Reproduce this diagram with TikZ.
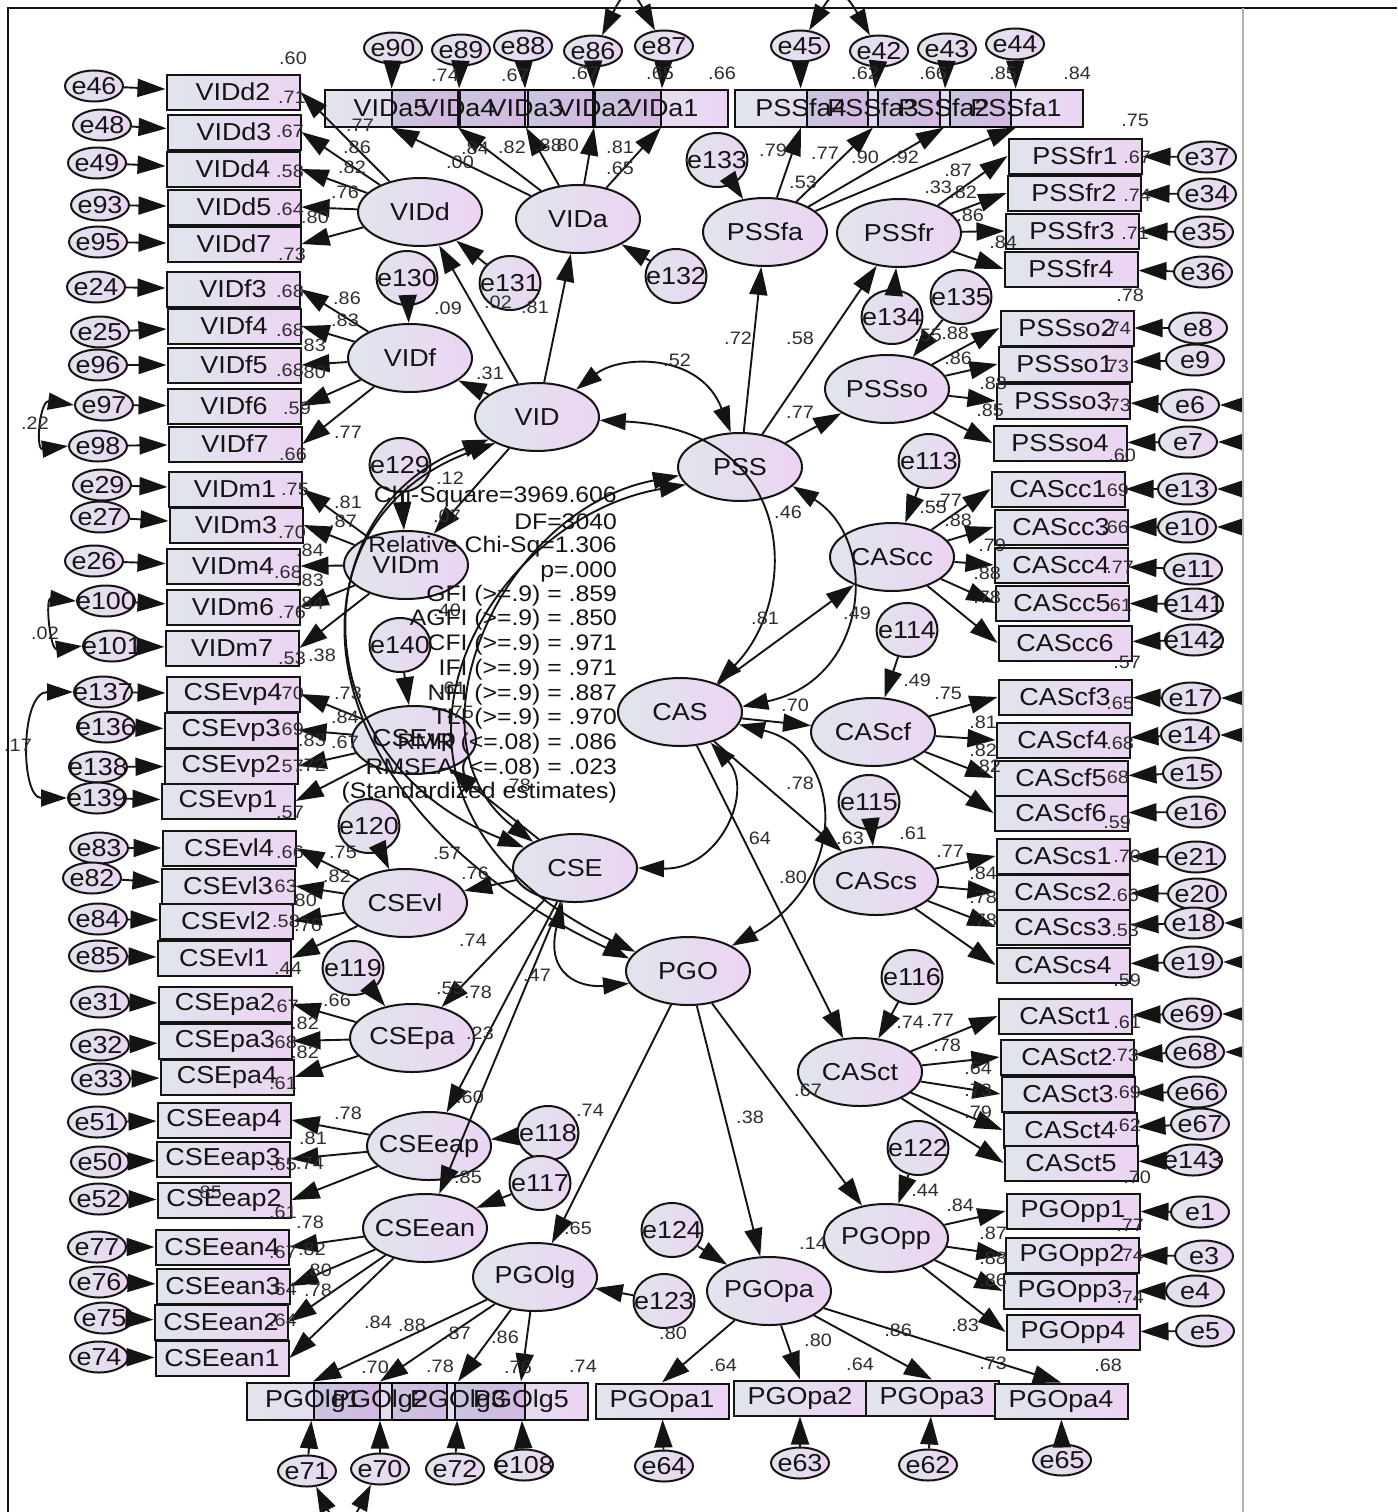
\documentclass[tikz,border=0pt]{standalone}
\usepackage{fontspec}
\setmainfont{Liberation Sans}[FakeStretch=1.1]
\usetikzlibrary{arrows.meta,shapes.geometric}
\definecolor{gA}{RGB}{224,229,236}
\definecolor{gB}{RGB}{236,212,243}
\definecolor{ink}{RGB}{20,20,20}
\definecolor{num}{RGB}{45,45,45}
\newcommand\fbig{\fontsize{24.5}{26}\selectfont}
\newcommand\fsmall{\fontsize{18}{20}\selectfont}
\newcommand\ffit{\fontsize{22.5}{24}\selectfont}
\tikzset{
 grad/.style={left color=gA, right color=gB},
 obs/.style={draw=ink, line width=2pt, rectangle, grad, minimum width=133pt, minimum height=35pt, inner sep=0pt},
 rowbox/.style={obs, minimum height=37pt},
 lat/.style={draw=ink, line width=2pt, ellipse, grad, minimum width=124pt, minimum height=68pt, inner sep=0pt},
 err/.style={draw=ink, line width=2pt, ellipse, grad, minimum width=58pt, minimum height=31pt, inner sep=0pt},
 res/.style={draw=ink, line width=2pt, ellipse, grad, minimum width=61pt, minimum height=54pt, inner sep=0pt},
 txt/.style={font=\fbig, text=ink, inner sep=0pt},
 arr/.style={draw=ink, line width=1.9pt, -{Triangle[length=28pt,width=18pt]}},
 cov/.style={draw=ink, line width=1.9pt, {Triangle[length=26pt,width=17pt]}-{Triangle[length=26pt,width=17pt]}},
 cl/.style={font=\fsmall, text=num, inner sep=0pt},
 fitl/.style={font=\ffit, text=ink, inner sep=0pt, anchor=east},
}
\begin{document}
\begin{tikzpicture}[x=1pt,y=-1pt]
\useasboundingbox (0,0) rectangle (1397,1512);
\fill[white] (0,0) rectangle (1397,1512);
\begin{scope}
\clip (0,0) rectangle (1243,1512);
% ---------- observed boxes, left and right columns
\foreach \n/\x/\y in {VIDd2/233/92, VIDd3/234/132, VIDd4/233/169, VIDd5/234/207, VIDd7/234/244,
 VIDf3/233/289, VIDf4/234/326, VIDf5/234/365, VIDf6/234/406, VIDf7/235/444,
 VIDm1/235/489, VIDm3/236/525, VIDm4/233/566, VIDm6/233/607, VIDm7/232/648,
 CSEvp4/233/694, CSEvp3/231/730, CSEvp2/231/766, CSEvp1/228/801,
 CSEvl4/229/848, CSEvl3/228/886, CSEvl2/226/921, CSEvl1/224/958,
 CSEpa2/225/1004, CSEpa3/225/1041, CSEpa4/227/1077,
 CSEeap4/224/1120, CSEeap3/223/1159, CSEeap2/224/1200,
 CSEean4/222/1247, CSEean3/223/1286, CSEean2/221/1322, CSEean1/222/1358,
 PSSfr1/1075/156, PSSfr2/1074/193, PSSfr3/1072/231, PSSfr4/1071/269,
 PSSso2/1067/328, PSSso1/1065/364, PSSso3/1063/401, PSSso4/1060/443,
 CAScc1/1058/489, CAScc3/1061/527, CAScc4/1061/565, CAScc5/1062/603, CAScc6/1065/643,
 CAScf3/1065/697, CAScf4/1063/740, CAScf5/1061/778, CAScf6/1061/813,
 CAScs1/1063/856, CAScs2/1063/892, CAScs3/1063/927, CAScs4/1063/965,
 CASct1/1065/1016, CASct2/1067/1057, CASct3/1068/1094, CASct4/1070/1130, CASct5/1071/1163,
 PGOpp1/1073/1211, PGOpp2/1072/1255, PGOpp3/1070/1291, PGOpp4/1073/1332,
 PGOpa1/662/1401, PGOpa2/800/1398, PGOpa3/932/1398, PGOpa4/1061/1401}
 {\node[obs] (\n) at (\x,\y) {}; \node[txt] (\n-t) at (\x,\y) {\n};}
% ---------- overlapping rows (overlaps darken)
\begin{scope}[blend mode=multiply]
\foreach \n/\x/\y in {VIDa5/391/108, VIDa4/458/108, VIDa3/526/108, VIDa2/594/108, VIDa1/661/108,
 PSSfa4/801/108, PSSfa3/873/108, PSSfa2/944/108, PSSfa1/1016/108,
 PGOlg1/313/1401, PGOlg2/380/1401, PGOlg3/458/1401, PGOlg5/521/1401}
 {\node[rowbox] (\n) at (\x,\y) {};}
\end{scope}
\foreach \n/\x/\y in {VIDa5/391/108, VIDa4/458/108, VIDa3/526/108, VIDa2/594/108, VIDa1/661/108,
 PSSfa4/801/108, PSSfa3/873/108, PSSfa2/944/108, PSSfa1/1016/108,
 PGOlg1/313/1401, PGOlg2/380/1401, PGOlg3/458/1401, PGOlg5/521/1401}
 {\node[txt] (\n-t) at (\x,\y) {\n};}
% ---------- measurement errors
\foreach \n/\x/\y in {e46/94/86, e48/102/125, e49/97/163, e93/100/205, e95/98/242,
 e24/96/287, e25/100/332, e96/98/365, e97/104/405, e98/98/446,
 e29/102/485, e27/100/517, e26/94/561, e100/106/601, e101/112/646,
 e137/103/692, e136/106/727, e138/98/767, e139/97/798,
 e83/99/848, e82/92/878, e84/98/919, e85/98/956,
 e31/100/1002, e32/100/1045, e33/101/1079,
 e51/97/1122, e50/100/1162, e52/99/1199,
 e77/97/1247, e76/99/1282, e75/104/1318, e74/99/1357,
 e90/393/48, e89/461/50, e88/523/46, e86/593/51, e87/664/46,
 e45/800/46, e42/879/51, e43/947/49, e44/1015/44,
 e37/1207/157, e34/1207/194, e35/1204/232, e36/1203/272, e8/1198/328, e9/1195/360,
 e6/1190/405, e7/1188/442, e13/1187/489, e10/1187/527, e11/1193/569, e141/1194/604, e142/1194/640,
 e17/1191/698, e14/1190/735, e15/1192/773, e16/1196/812,
 e21/1196/857, e20/1197/894, e18/1194/923, e19/1193/962,
 e69/1192/1014, e68/1195/1052, e66/1197/1092, e67/1200/1124, e143/1193/1160,
 e1/1200/1212, e3/1204/1256, e4/1195/1291, e5/1205/1331,
 e71/307/1471, e70/380/1469, e72/455/1469, e108/524/1465,
 e64/664/1466, e63/800/1463, e62/928/1465, e65/1062/1460}
 {\node[err] (\n) at (\x,\y) {}; \node[txt] (\n-t) at (\x,\y) {\n};}
% ---------- structural residuals
\foreach \n/\x/\y in {e130/407/278, e131/510/283, e132/676/276, e133/717/160, e134/892/317, e135/961/297,
 e129/400/465, e140/400/645, e113/929/461, e114/907/630, e115/869/802, e120/369/826,
 e116/912/977, e119/353/968, e118/548/1133, e117/540/1183, e122/918/1148, e124/672/1230, e123/664/1301}
 {\node[res] (\n) at (\x,\y) {}; \node[txt] (\n-t) at (\x,\y) {\n};}
% ---------- latent factors
\foreach \n/\x/\y in {VIDd/420/212, VIDa/578/219, PSSfa/765/232, PSSfr/899/233, VIDf/410/358,
 VID/537/417, PSSso/887/389, PSS/740/467, VIDm/406/565, CAScc/892/557, CSEvp/414/740,
 CAS/680/712, CAScf/873/732, CSE/575/868, CSEvl/405/903, PGO/688/971, CAScs/876/881,
 CSEpa/412/1038, CASct/860/1072, CSEeap/429/1146, CSEean/425/1228, PGOlg/535/1277,
 PGOpa/769/1291, PGOpp/886/1238}
 {\node[lat] (\n) at (\x,\y) {}; \node[txt] (\n-t) at (\x,\y) {\n};}
% ---------- error arrows
\foreach \a/\b in {e46/VIDd2, e48/VIDd3, e49/VIDd4, e93/VIDd5, e95/VIDd7, e24/VIDf3, e25/VIDf4, e96/VIDf5,
 e97/VIDf6, e98/VIDf7, e29/VIDm1, e27/VIDm3, e26/VIDm4, e100/VIDm6, e101/VIDm7,
 e137/CSEvp4, e136/CSEvp3, e138/CSEvp2, e139/CSEvp1, e83/CSEvl4, e82/CSEvl3, e84/CSEvl2, e85/CSEvl1,
 e31/CSEpa2, e32/CSEpa3, e33/CSEpa4, e51/CSEeap4, e50/CSEeap3, e52/CSEeap2,
 e77/CSEean4, e76/CSEean3, e75/CSEean2, e74/CSEean1,
 e37/PSSfr1, e34/PSSfr2, e35/PSSfr3, e36/PSSfr4, e8/PSSso2, e9/PSSso1, e6/PSSso3, e7/PSSso4,
 e13/CAScc1, e10/CAScc3, e11/CAScc4, e141/CAScc5, e142/CAScc6, e17/CAScf3, e14/CAScf4, e15/CAScf5, e16/CAScf6,
 e21/CAScs1, e20/CAScs2, e18/CAScs3, e19/CAScs4, e69/CASct1, e68/CASct2, e66/CASct3, e67/CASct4, e143/CASct5,
 e1/PGOpp1, e3/PGOpp2, e4/PGOpp3, e5/PGOpp4,
 e90/VIDa5, e89/VIDa4, e88/VIDa3, e86/VIDa2, e87/VIDa1, e45/PSSfa4, e42/PSSfa3, e43/PSSfa2, e44/PSSfa1,
 e71/PGOlg1, e70/PGOlg2, e72/PGOlg3, e108/PGOlg5, e64/PGOpa1, e63/PGOpa2, e62/PGOpa3, e65/PGOpa4,
 e130/VIDf, e131/VIDd, e132/VIDa, e133/PSSfa, e134/PSSfr, e135/PSSso, e129/VIDm, e140/CSEvp,
 e113/CAScc, e114/CAScf, e115/CAScs, e120/CSEvl, e116/CASct, e119/CSEpa, e118/CSEeap, e117/CSEean,
 e122/PGOpp, e124/PGOpa, e123/PGOlg}
 {\draw[arr] (\a) -- (\b);}
% ---------- loadings
\foreach \b in {VIDd2,VIDd3,VIDd4,VIDd5,VIDd7} {\draw[arr] (VIDd) -- (\b.east);}
\foreach \b in {VIDf3,VIDf4,VIDf5,VIDf6,VIDf7} {\draw[arr] (VIDf) -- (\b.east);}
\foreach \b in {VIDm1,VIDm3,VIDm4,VIDm6,VIDm7} {\draw[arr] (VIDm) -- (\b.east);}
\foreach \b in {CSEvp4,CSEvp3,CSEvp2,CSEvp1} {\draw[arr] (CSEvp) -- (\b.east);}
\foreach \b in {CSEvl4,CSEvl3,CSEvl2,CSEvl1} {\draw[arr] (CSEvl) -- (\b.east);}
\foreach \b in {CSEpa2,CSEpa3,CSEpa4} {\draw[arr] (CSEpa) -- (\b.east);}
\foreach \b in {CSEeap4,CSEeap3,CSEeap2} {\draw[arr] (CSEeap) -- (\b.east);}
\foreach \b in {CSEean4,CSEean3,CSEean2,CSEean1} {\draw[arr] (CSEean) -- (\b.east);}
\foreach \b in {VIDa5,VIDa4,VIDa3,VIDa2,VIDa1} {\draw[arr] (VIDa) -- (\b.south);}
\foreach \b in {PSSfa4,PSSfa3,PSSfa2,PSSfa1} {\draw[arr] (PSSfa) -- (\b.south);}
\foreach \b in {PSSfr1,PSSfr2,PSSfr3,PSSfr4} {\draw[arr] (PSSfr) -- (\b.west);}
\foreach \b in {PSSso2,PSSso1,PSSso3,PSSso4} {\draw[arr] (PSSso) -- (\b.west);}
\foreach \b in {CAScc1,CAScc3,CAScc4,CAScc5,CAScc6} {\draw[arr] (CAScc) -- (\b.west);}
\foreach \b in {CAScf3,CAScf4,CAScf5,CAScf6} {\draw[arr] (CAScf) -- (\b.west);}
\foreach \b in {CAScs1,CAScs2,CAScs3,CAScs4} {\draw[arr] (CAScs) -- (\b.west);}
\foreach \b in {CASct1,CASct2,CASct3,CASct4,CASct5} {\draw[arr] (CASct) -- (\b.west);}
\foreach \b in {PGOpp1,PGOpp2,PGOpp3,PGOpp4} {\draw[arr] (PGOpp) -- (\b.west);}
\foreach \b in {PGOlg1,PGOlg2,PGOlg3,PGOlg5} {\draw[arr] (PGOlg) -- (\b.north);}
\foreach \b in {PGOpa1,PGOpa2,PGOpa3,PGOpa4} {\draw[arr] (PGOpa) -- (\b.north);}
% ---------- second order paths
\foreach \a/\b in {VID/VIDd, VID/VIDa, VID/VIDf, VID/VIDm, PSS/PSSfa, PSS/PSSfr, PSS/PSSso,
 CAS/CAScc, CAS/CAScf, CAS/CAScs, CAS/CASct, CSE/CSEvp, CSE/CSEvl, CSE/CSEpa, CSE/CSEeap, CSE/CSEean,
 PGO/PGOlg, PGO/PGOpa, PGO/PGOpp}
 {\draw[arr] (\a) -- (\b);}
% ---------- covariances among second order factors
\draw[cov] (VID.35) .. controls (620,355) and (700,352) .. (PSS.105);
\draw[cov] (VID.-3) .. controls (800,430) and (800,600) .. (CAS.38);
\draw[cov] (PSS.-20) .. controls (880,540) and (870,680) .. (CAS.5);
\draw[cov] (CAS.-45) .. controls (755,790) and (720,870) .. (CSE.0);
\draw[cov] (CAS.-12) .. controls (845,750) and (850,880) .. (PGO.30);
\draw[cov] (VID.205) .. controls (300,510) and (300,760) .. (CSE.158);
\draw[cov] (VID.212) .. controls (280,520) and (290,800) .. (PGO.168);
\draw[cov] (PSS.188) .. controls (500,510) and (400,740) .. (CSE.148);
\draw[cov] (PSS.198) .. controls (480,520) and (320,800) .. (PGO.160);
\draw[cov] (CSE.250) .. controls (545,975) and (580,988) .. (PGO.192);
% ---------- error covariances
\draw[cov] (e86.60) .. controls (625,-12) and (632,-12) .. (e87.120);
\draw[cov] (e45.60) .. controls (835,-12) and (843,-12) .. (e42.120);
\draw[cov] (e71.-60) .. controls (338,1530) and (348,1530) .. (e70.-120);
\draw[cov] (e97.west) .. controls (40,400) and (35,450) .. (e98.west);
\draw[cov] (e100.west) .. controls (45,598) and (50,650) .. (e101.west);
\draw[cov] (e137.west) .. controls (20,692) and (20,798) .. (e139.west);
\draw[cov] (e6.east) .. controls (1290,405) and (1290,442) .. (e7.east);
\draw[cov] (e13.east) .. controls (1290,489) and (1290,527) .. (e10.east);
\draw[cov] (e17.east) .. controls (1290,698) and (1290,735) .. (e14.east);
\draw[cov] (e18.east) .. controls (1290,923) and (1290,962) .. (e19.east);
\draw[cov] (e69.east) .. controls (1290,1014) and (1290,1052) .. (e68.east);
% ---------- coefficient labels
\foreach \x/\y/\t in {293/58/.60, 292/97/.71, 360/125/.77, 357/147/.86, 290/131/.67, 352/167/.82, 290/171/.58,
 345/192/.76, 290/209/.64, 315/217/.80, 292/254/.73,
 290/291/.68, 347/298/.86, 345/320/.83, 290/330/.68, 312/345/.83, 290/370/.68, 312/372/.80, 297/408/.59,
 348/432/.77, 293/454/.66,
 295/489/.75, 348/502/.81, 343/521/.87, 292/532/.70, 310/550/.84, 288/572/.68, 310/580/.83, 310/603/.84,
 292/612/.76, 292/658/.53, 322/655/.38, 35/423/.22, 45/633/.02, 18/745/.17,
 290/693/.70, 348/693/.73, 345/717/.84, 290/729/.69, 312/740/.83, 345/742/.67, 290/766/.57, 312/765/.72, 290/812/.57,
 290/852/.66, 343/852/.75, 337/876/.82, 283/886/.63, 303/900/.80, 286/921/.58, 308/925/.76, 288/968/.44,
 337/1000/.66, 285/1006/.67, 305/1023/.82, 283/1042/.68, 305/1052/.82, 283/1083/.61,
 348/1113/.78, 313/1138/.81, 283/1164/.65, 310/1163/.74, 208/1192/.85, 283/1212/.61,
 310/1222/.78, 283/1252/.67, 312/1249/.82, 318/1270/.80, 283/1289/.64, 318/1290/.78, 283/1320/.64,
 378/1322/.84, 412/1325/.88, 375/1367/.70, 457/1333/.87, 505/1337/.86, 440/1366/.78, 518/1367/.76, 583/1366/.74,
 673/1333/.80, 723/1365/.64, 818/1340/.80, 860/1364/.64, 898/1330/.86, 965/1325/.83, 993/1363/.73, 1108/1365/.68,
 813/1243/.14, 925/1190/.44, 960/1205/.84, 993/1233/.87, 993/1258/.88, 993/1280/.86,
 1130/1225/.77, 1130/1255/.74, 1130/1297/.74,
 1137/1177/.70, 910/1022/.74, 940/1020/.77, 947/1045/.78, 978/1068/.64, 978/1090/.73, 978/1112/.79,
 1127/1022/.61, 1125/1055/.73, 1127/1092/.69, 1127/1125/.62,
 850/838/.63, 913/833/.61, 950/851/.77, 983/873/.84, 983/897/.78, 983/920/.78,
 1127/856/.70, 1125/895/.66, 1125/930/.53, 1127/980/.59,
 1115/777/.68, 1117/822/.59, 917/680/.49, 948/693/.75, 1120/703/.65, 983/722/.81, 1120/743/.68, 983/750/.82, 987/766/.82,
 948/500/.77, 933/507/.55, 958/520/.88, 1115/490/.69, 1115/527/.66, 992/545/.79, 1120/567/.77, 987/573/.88,
 987/597/.78, 1118/605/.61, 1127/662/.57, 857/613/.49,
 993/383/.88, 990/410/.85, 1117/405/.73, 1122/455/.60, 1130/295/.78, 928/335/.55, 955/333/.88, 958/358/.86,
 1117/328/.74, 1115/366/.73,
 1135/120/.75, 1137/157/.67, 1137/195/.74, 1135/233/.71, 958/170/.87, 938/187/.33, 963/192/.82, 970/215/.86, 1003/242/.84,
 865/73/.62, 933/73/.66, 1003/73/.85, 1077/73/.84, 825/153/.77, 865/157/.90, 905/157/.92, 773/150/.79, 803/182/.53,
 445/75/.74, 515/75/.67, 585/73/.67, 660/73/.65, 722/73/.66, 460/162/.00, 475/148/.84, 512/147/.82, 548/145/.88,
 565/145/.80, 620/147/.81, 620/168/.65,
 738/338/.72, 800/338/.58, 677/360/.52, 448/308/.09, 498/302/.02, 535/307/.81, 490/373/.31, 800/412/.77,
 450/478/.12, 447/516/.07, 788/512/.46, 765/618/.81, 447/610/.40, 795/705/.70, 460/712/.75, 452/688/.61,
 517/785/.78, 447/853/.57, 475/873/.76, 473/940/.74, 450/988/.55, 478/992/.78, 480/1033/.23, 537/975/.47,
 470/1097/.60, 590/1110/.74, 750/1117/.38, 757/838/.64, 793/877/.80, 800/783/.78, 808/1090/.67,
 578/1228/.65, 468/1177/.85}
 {\node[cl] (c-\x-\y) at (\x,\y) {\t};}
% ---------- fit statistics
\node[fitl] (f1) at (617,497) {Chi-Square=3969.606};
\node[fitl] (f2) at (617,522) {DF=3040};
\node[fitl] (f3) at (617,547) {Relative Chi-Sq=1.306};
\node[fitl] (f4) at (617,572) {p=.000};
\node[fitl] (f5) at (617,596) {GFI (>=.9) = .859};
\node[fitl] (f6) at (617,620) {AGFI (>=.9) = .850};
\node[fitl] (f7) at (617,645) {CFI (>=.9) = .971};
\node[fitl] (f8) at (617,670) {IFI (>=.9) = .971};
\node[fitl] (f9) at (617,695) {NFI (>=.9) = .887};
\node[fitl] (f10) at (617,719) {TLI (>=.9) = .970};
\node[fitl] (f11) at (617,744) {RMR (<=.08) = .086};
\node[fitl] (f12) at (617,769) {RMSEA (<=.08) = .023};
\node[fitl] (f13) at (617,793) {(Standardized estimates)};
\end{scope}
% ---------- frame
\draw[line width=2pt, ink] (8,1512) -- (8,8) -- (1397,8);
\draw[line width=1.2pt, gray!60] (1243,8) -- (1243,1512);
\end{tikzpicture}
\end{document}
